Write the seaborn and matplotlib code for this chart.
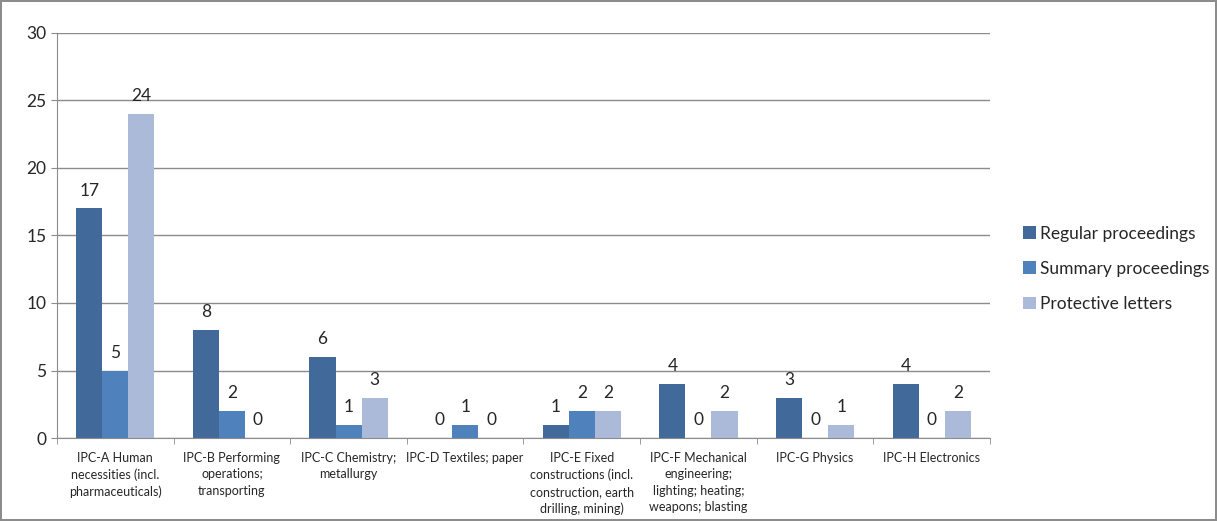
import matplotlib.pyplot as plt
import pandas as pd
import seaborn as sns

# IPC classes and counts per proceeding type
categories = [
    "IPC-A Human\nnecessities (incl.\npharmaceuticals)",
    "IPC-B Performing\noperations;\ntransporting",
    "IPC-C Chemistry;\nmetallurgy",
    "IPC-D Textiles; paper",
    "IPC-E Fixed\nconstructions (incl.\nconstruction, earth\ndrilling, mining)",
    "IPC-F Mechanical\nengineering;\nlighting; heating;\nweapons; blasting",
    "IPC-G Physics",
    "IPC-H Electronics",
]
regular = [17, 8, 6, 0, 1, 4, 3, 4]
summary = [5, 2, 1, 1, 2, 0, 0, 0]
protective = [24, 0, 3, 0, 2, 2, 1, 2]

series = ["Regular proceedings", "Summary proceedings", "Protective letters"]
colors = ["#416A9B", "#4F81BD", "#AABAD8"]

df = pd.DataFrame({
    "category": categories * 3,
    "series": [series[0]] * 8 + [series[1]] * 8 + [series[2]] * 8,
    "value": regular + summary + protective,
})

sns.set_style("white")
plt.rcParams["font.family"] = ["Lato", "DejaVu Sans"]

fig = plt.figure(figsize=(12.17, 5.21), dpi=100)
fig.patch.set_edgecolor("#8C8C8C")
fig.patch.set_linewidth(1.5)
ax = fig.add_axes([0.0468, 0.1593, 0.7667, 0.7774])

sns.barplot(data=df, x="category", y="value", hue="series", order=categories,
            hue_order=series, palette=colors, width=0.67, saturation=1,
            errorbar=None, linewidth=0, ax=ax)

for cont in ax.containers:
    ax.bar_label(cont, fmt="%d", padding=7, fontsize=12.5)

ax.set_ylim(0, 30)
ax.set_xlim(-0.5, len(categories) - 0.5)
ax.set_yticks(range(0, 31, 5))
ax.yaxis.grid(True, color="#8C8C8C", linewidth=1)
ax.set_axisbelow(True)
ax.set_xlabel("")
ax.set_ylabel("")
ax.tick_params(axis="y", labelsize=12.5, length=4, left=True, color="#8C8C8C")
ax.tick_params(axis="x", which="major", labelsize=9, length=0, pad=10)
ax.set_xticks([i - 0.5 for i in range(len(categories) + 1)], minor=True)
ax.tick_params(axis="x", which="minor", length=4, bottom=True, color="#8C8C8C")
for lbl in ax.get_xticklabels():
    lbl.set_linespacing(1.45)

for s in ["top", "right"]:
    ax.spines[s].set_visible(False)
for s in ["left", "bottom"]:
    ax.spines[s].set_color("#8C8C8C")

ax.legend(loc="center left", bbox_to_anchor=(0.8275, 0.484),
          bbox_transform=fig.transFigure, frameon=False,
          fontsize=12.5, handlelength=0.75, handleheight=0.75, labelspacing=1.1,
          handletextpad=0.25)

fig.savefig("out.png", dpi=100, edgecolor=fig.get_edgecolor())
